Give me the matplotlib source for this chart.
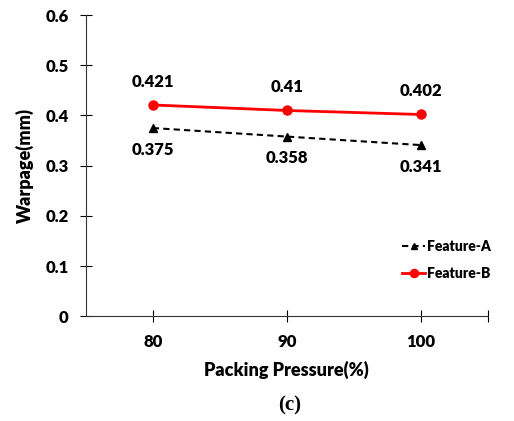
import matplotlib.pyplot as plt
import numpy as np

pressure = ['80', '90', '100']
feature_a = [0.375, 0.358, 0.341]
feature_b = [0.421, 0.41, 0.402]
yticks = [0, 0.1, 0.2, 0.3, 0.4, 0.5, 0.6]
ylabels = ['0', '0.1', '0.2', '0.3', '0.4', '0.5', '0.6']

plt.rcParams['font.family'] = ['Lato', 'DejaVu Sans']
plt.rcParams['font.weight'] = 'heavy'

fig = plt.figure(figsize=(5.14, 4.21), dpi=100)
ax = fig.add_axes([0.167, 0.249, 0.782, 0.715])

x = np.arange(len(pressure)) + 0.5
ax.plot(x, feature_a, color='black', linestyle=(0, (3, 2)), linewidth=1.5,
        marker='^', markersize=5.5, label='Feature-A')
ax.plot(x, feature_b, color='red', linestyle='-', linewidth=2,
        marker='o', markersize=6.5, label='Feature-B')

for xi, v in zip(x, feature_b):
    ax.annotate('%g' % v, (xi, v), xytext=(0, 11), textcoords='offset points',
                ha='center', va='bottom', fontsize=12, fontweight='heavy')
for xi, v in zip(x, feature_a):
    ax.annotate('%g' % v, (xi, v), xytext=(0, -10), textcoords='offset points',
                ha='center', va='top', fontsize=12, fontweight='heavy')

ax.set_xlim(0, 3)
ax.set_ylim(0, 0.6)
ax.set_xticks(list(x) + [3])
ax.set_xticklabels(pressure + [''])
ax.set_yticks(yticks)
ax.set_yticklabels(ylabels)
ax.tick_params(direction='inout', length=9, width=0.8, labelsize=12, pad=8)
ax.spines['top'].set_visible(False)
ax.spines['right'].set_visible(False)
for s in ['left', 'bottom']:
    ax.spines[s].set_linewidth(0.8)
    ax.spines[s].set_color('#333333')

ax.set_xlabel('Packing Pressure(%)', fontsize=13, fontweight='heavy', labelpad=8)
ax.set_ylabel('Warpage(mm)', fontsize=13, fontweight='heavy', labelpad=8)

ax.legend(loc='lower right', bbox_to_anchor=(1.04, 0.08), frameon=False,
          fontsize=10, handlelength=1.6, handletextpad=0.2, labelspacing=1.0,
          markerscale=0.9)

fig.text(0.563, 0.038, '(c)', ha='center', va='center', fontsize=15,
         fontweight='bold', family='Liberation Serif')

plt.savefig('out.png', dpi=100)
